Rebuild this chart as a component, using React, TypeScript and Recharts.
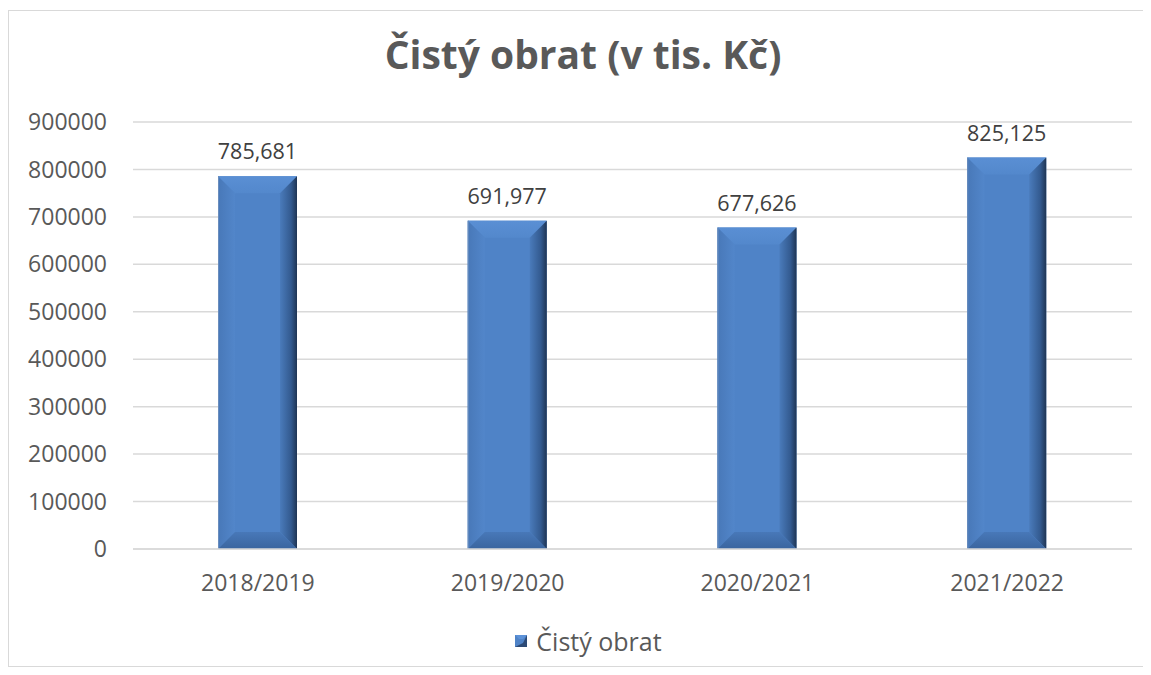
import React from 'react';
import { BarChart, Bar, XAxis, YAxis, CartesianGrid, Legend, LabelList } from 'recharts';

const categories = ['2018/2019', '2019/2020', '2020/2021', '2021/2022'];
const obratValues = [785681, 691977, 677626, 825125];
const yTicks = [0, 100000, 200000, 300000, 400000, 500000, 600000, 700000, 800000, 900000];

const data = categories.map((period, i) => ({ period, obrat: obratValues[i] }));

const FONT = '"Open Sans", "Noto Sans", sans-serif';
const W = 1142;
const H = 655;

// Bar with bevelled edges like the Excel "soft round" look
const BevelBar = (props: any) => {
  const { x, y, width, height } = props;
  if (!height || height <= 0) return null;
  const b = Math.min(17, width / 2, height / 2);
  const r = x + width;
  const btm = y + height;
  return (
    <g>
      <rect x={x} y={y} width={width} height={height} fill="#4f83c7" />
      {/* top */}
      <polygon points={`${x},${y} ${r},${y} ${r - b},${y + b} ${x + b},${y + b}`} fill="url(#bevTop)" />
      {/* left */}
      <polygon points={`${x},${y} ${x + b},${y + b} ${x + b},${btm - b} ${x},${btm}`} fill="url(#bevLeft)" />
      {/* right */}
      <polygon points={`${r},${y} ${r - b},${y + b} ${r - b},${btm - b} ${r},${btm}`} fill="url(#bevRight)" />
      {/* bottom */}
      <polygon points={`${x},${btm} ${r},${btm} ${r - b},${btm - b} ${x + b},${btm - b}`} fill="url(#bevBottom)" />
      <line x1={x + 0.5} y1={y} x2={x + 0.5} y2={btm} stroke="#6a8dbd" strokeWidth={1} />
    </g>
  );
};

const renderLegend = () => (
  <div style={{ display: 'flex', justifyContent: 'center', alignItems: 'center', fontFamily: FONT, fontSize: 25, color: '#595959', height: 40, paddingLeft: 36 }}>
    <svg width={12} height={12} style={{ marginRight: 9 }}>
      <rect x={0} y={0} width={12} height={12} fill="#4f83c7" />
      <polygon points="12,0 12,12 0,12 8,8" fill="#2c4a75" />
      <polygon points="0,0 12,0 8,4 4,4" fill="#5d92d8" />
    </svg>
    <span>Čistý obrat</span>
  </div>
);

export default function App() {
  return (
    <div
      style={{
        position: 'relative',
        boxSizing: 'border-box',
        width: W + 1,
        height: H + 2,
        marginTop: 2,
        borderTop: '1px solid #d9d9d9',
        borderLeft: '1px solid #d9d9d9',
        borderBottom: '1px solid #d9d9d9',
        background: '#fff',
        overflow: 'hidden',
      }}
    >
      <div
        style={{
          position: 'absolute',
          top: 16,
          left: 0,
          width: 1148,
          textAlign: 'center',
          fontFamily: FONT,
          fontWeight: 700,
          fontSize: 39,
          color: '#595959',
          lineHeight: 'normal',
        }}
      >
        Čistý obrat (v tis. Kč)
      </div>
      <BarChart width={W} height={H} data={data} margin={{ top: 111, right: 19, bottom: 5, left: 0 }}>
        <defs>
          <linearGradient id="bevTop" x1="0" y1="0" x2="0" y2="1">
            <stop offset="0%" stopColor="#5a8fd4" />
            <stop offset="100%" stopColor="#5388cc" />
          </linearGradient>
          <linearGradient id="bevLeft" x1="0" y1="0" x2="1" y2="0">
            <stop offset="0%" stopColor="#4878b8" />
            <stop offset="100%" stopColor="#5286ca" />
          </linearGradient>
          <linearGradient id="bevRight" x1="0" y1="0" x2="1" y2="0">
            <stop offset="0%" stopColor="#4a7bbb" />
            <stop offset="65%" stopColor="#335a8f" />
            <stop offset="100%" stopColor="#1f3554" />
          </linearGradient>
          <linearGradient id="bevBottom" x1="0" y1="0" x2="0" y2="1">
            <stop offset="0%" stopColor="#4878b8" />
            <stop offset="100%" stopColor="#3a659f" />
          </linearGradient>
        </defs>
        <CartesianGrid vertical={false} stroke="#d9d9d9" strokeWidth={1.5} />
        <XAxis
          dataKey="period"
          height={72}
          tickLine={false}
          axisLine={{ stroke: '#d9d9d9', strokeWidth: 1.5 }}
          tick={{ fill: '#595959', fontSize: 23, fontFamily: FONT }}
          tickMargin={20}
        />
        <YAxis
          width={124}
          domain={[0, 900000]}
          ticks={yTicks}
          interval={0}
          tickLine={false}
          axisLine={false}
          tickSize={0}
          tickMargin={26}
          tick={{ fill: '#595959', fontSize: 23, fontFamily: FONT }}
        />
        <Legend verticalAlign="bottom" content={renderLegend} />
        <Bar dataKey="obrat" name="Čistý obrat" barSize={79} shape={<BevelBar />} isAnimationActive={false}>
          <LabelList
            dataKey="obrat"
            position="top"
            offset={17}
            formatter={(v: any) => Number(v).toLocaleString('en-US')}
            style={{ fill: '#404040', fontSize: 21.5, fontFamily: FONT }}
          />
        </Bar>
      </BarChart>
    </div>
  );
}
